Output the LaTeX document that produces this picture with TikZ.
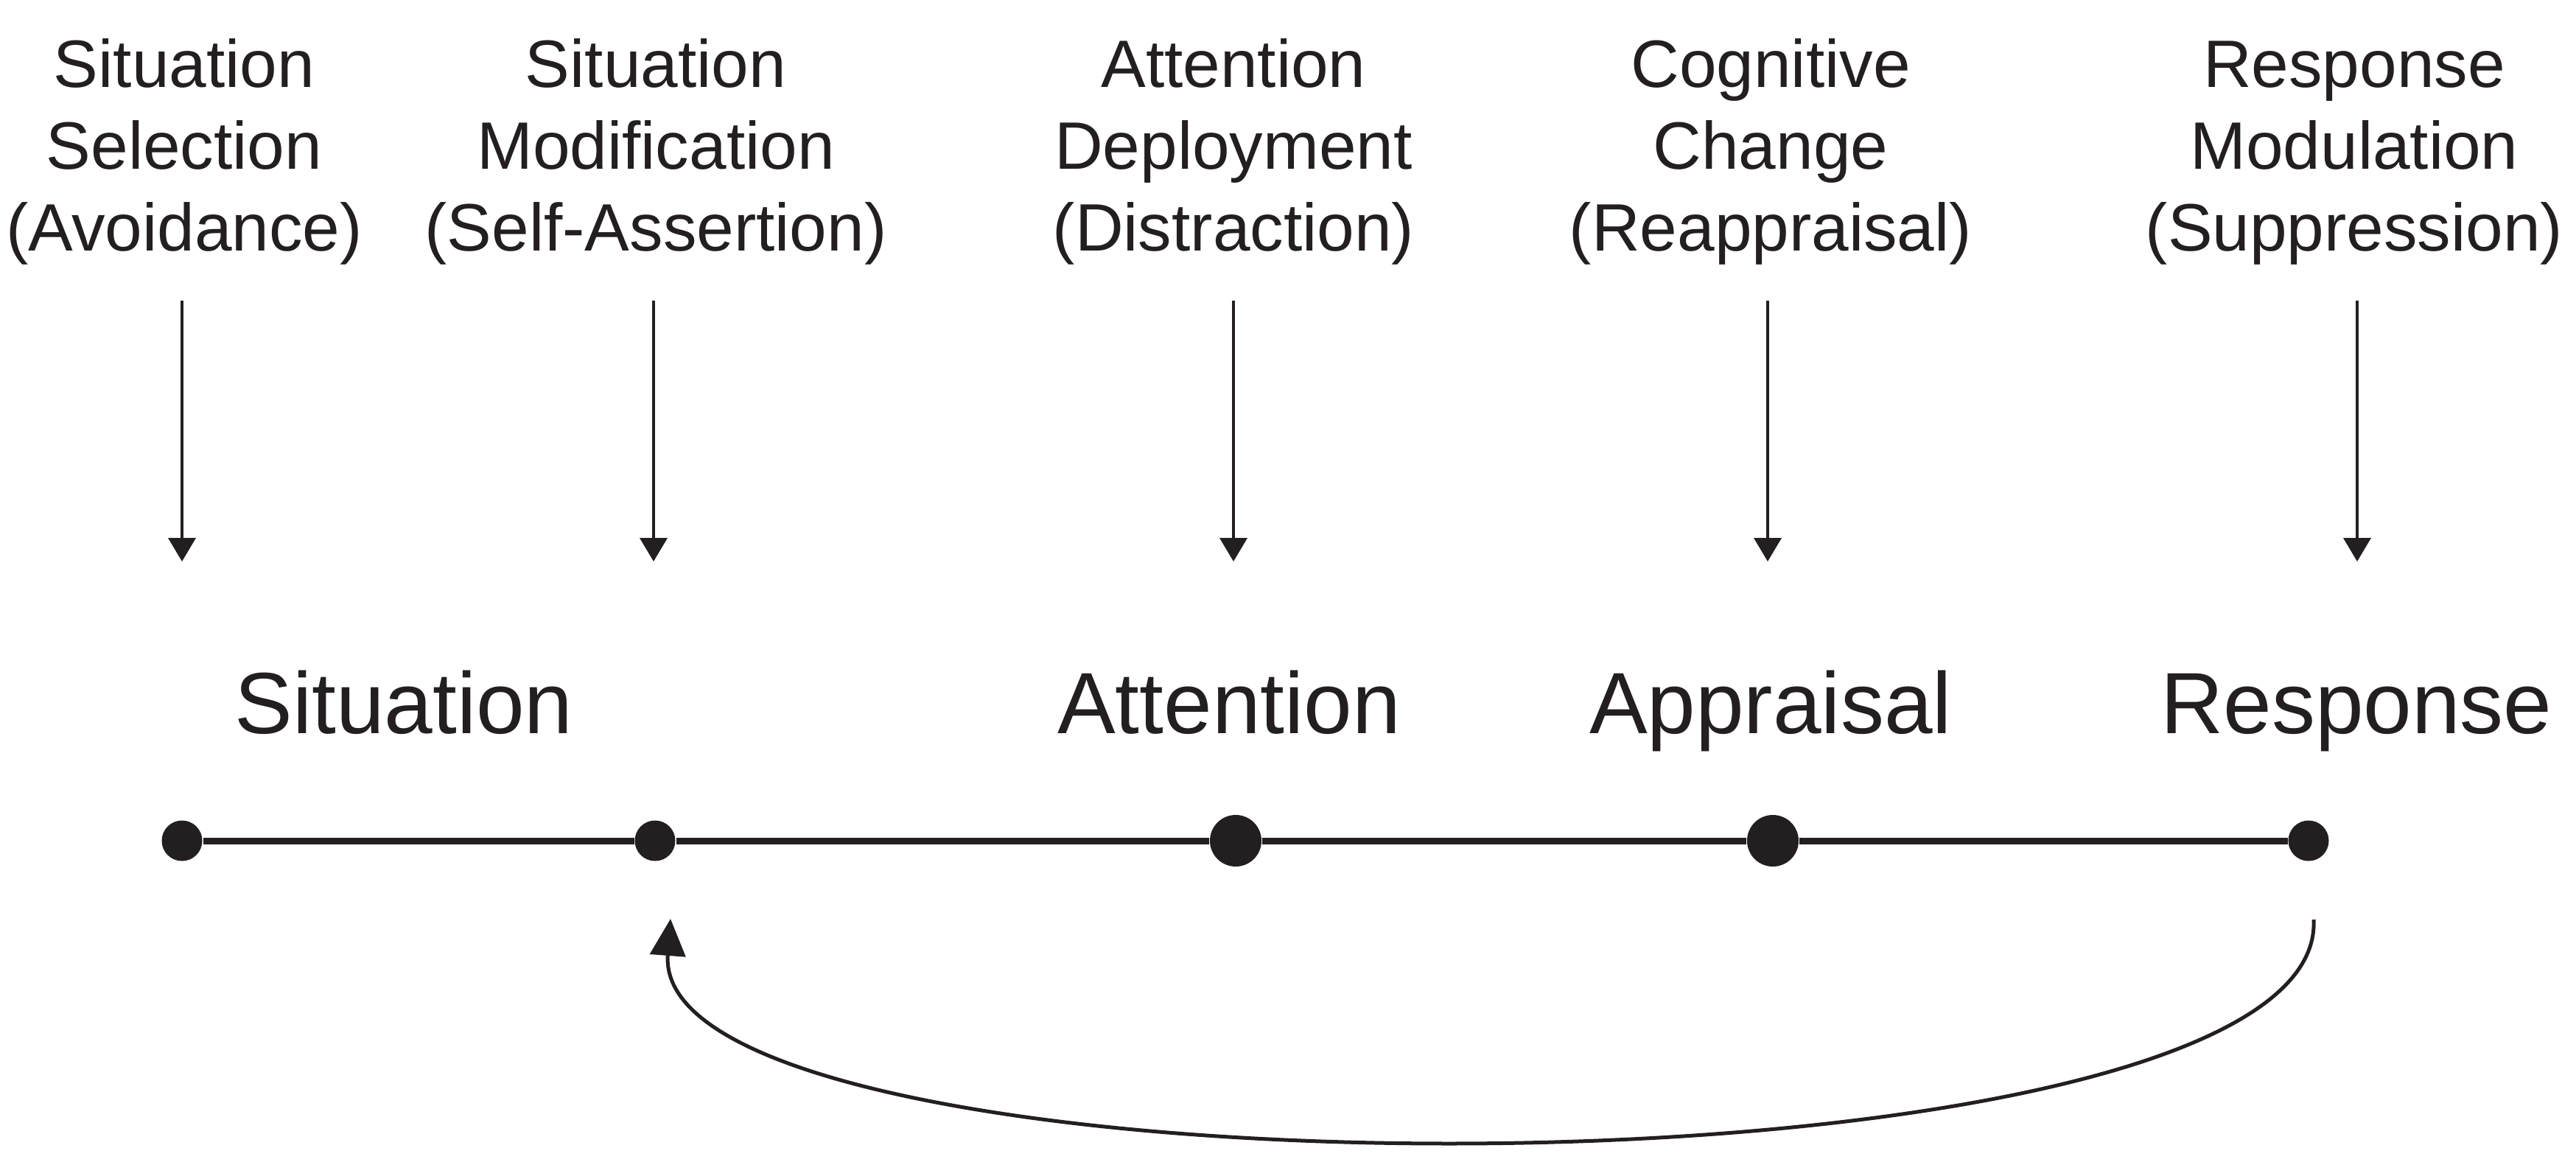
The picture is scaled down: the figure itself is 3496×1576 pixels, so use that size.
\documentclass[tikz,border=0pt]{standalone}
\usepackage{fontspec}
\setmainfont{Liberation Sans}
\usetikzlibrary{arrows.meta}
\definecolor{ink}{RGB}{35,31,32}
\begin{document}
\begin{tikzpicture}[x=0.2pt,y=-0.2pt,
  toplabel/.style={font=\fontsize{18.2}{22.2}\selectfont, text=ink, align=center, inner sep=0pt, anchor=base},
  stage/.style={font=\fontsize{23.6}{28}\selectfont, text=ink, inner sep=0pt, anchor=base},
  dot/.style={circle, fill=ink, inner sep=0pt, minimum size=11pt},
  bigdot/.style={dot, minimum size=14pt},
  downarrow/.style={draw=ink, line width=0.8pt, -{Triangle[length=6.4pt,width=7.4pt]}},
  timeline/.style={draw=ink, line width=1.8pt},
  feedback/.style={draw=ink, line width=1pt, -{Triangle[length=10pt,width=9.6pt]}}]
\useasboundingbox (0,0) rectangle (3496,1576);
% top labels (anchored at the baseline of their last line)
\node[toplabel] (l1) at (250,340) {Situation\\Selection\\(Avoidance)};
\node[toplabel] (l2) at (890,340) {Situation\\Modification\\(Self-Assertion)};
\node[toplabel] (l3) at (1674,340) {Attention\\Deployment\\(Distraction)};
\node[toplabel] (l4) at (2403,340) {Cognitive\\Change\\(Reappraisal)};
\node[toplabel] (l5) at (3195,340) {Response\\Modulation\\(Suppression)};
% arrow ends
\coordinate (s1) at (247,408); \coordinate (e1) at (247,762);
\coordinate (s2) at (887,408); \coordinate (e2) at (887,762);
\coordinate (s3) at (1674,408); \coordinate (e3) at (1674,762);
\coordinate (s4) at (2399,408); \coordinate (e4) at (2399,762);
\coordinate (s5) at (3199,408); \coordinate (e5) at (3199,762);
\draw[downarrow] (s1) -- (e1);
\draw[downarrow] (s2) -- (e2);
\draw[downarrow] (s3) -- (e3);
\draw[downarrow] (s4) -- (e4);
\draw[downarrow] (s5) -- (e5);
% stage words
\node[stage] (w1) at (548,995) {Situation};
\node[stage] (w2) at (1668,995) {Attention};
\node[stage] (w3) at (2403,995) {Appraisal};
\node[stage] (w4) at (3198,995) {Response};
% timeline
\node[dot] (d1) at (247,1141) {};
\node[dot] (d2) at (889,1141) {};
\node[bigdot] (d3) at (1677,1141) {};
\node[bigdot] (d4) at (2406,1141) {};
\node[dot] (d5) at (3133,1141) {};
\draw[timeline] (d1) -- (d2) -- (d3) -- (d4) -- (d5);
% feedback loop
\coordinate (fs) at (3140,1248);
\coordinate (fe) at (910,1247);
\draw[feedback] (fs) .. controls (3160,1645) and (880,1645) .. (fe);
\end{tikzpicture}
\end{document}
